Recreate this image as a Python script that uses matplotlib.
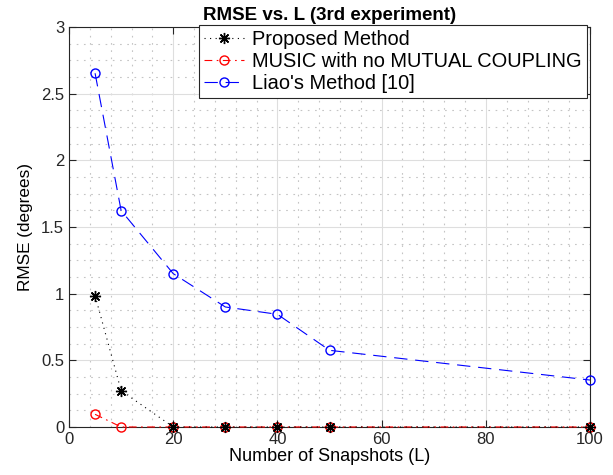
import numpy as np
import matplotlib
matplotlib.use('Agg')
import matplotlib.pyplot as plt
from matplotlib.ticker import MultipleLocator

plt.rcParams['font.family'] = ['Liberation Sans', 'DejaVu Sans']

snapshots = [5, 10, 20, 30, 40, 50, 100]
proposed = [0.985, 0.272, 0, 0, 0, 0, 0]
music = [0.095, 0, 0, 0, 0, 0, 0]
liao = [2.653, 1.623, 1.15, 0.90, 0.845, 0.575, 0.352]

fig = plt.figure(figsize=(6.13, 4.75), dpi=100)
ax = fig.add_axes([0.1126, 0.1011, 0.850, 0.8421])

lw = 0.8
ax.plot(snapshots, proposed, color='k', linestyle=(0, (1, 4)), linewidth=lw,
        marker=(8, 2, 0), markersize=8, markeredgewidth=1.0,
        label='Proposed Method', clip_on=False, zorder=4)
ax.plot(snapshots, music, color='r', linestyle=(0, (7, 4, 1.5, 4)), linewidth=lw,
        marker='o', markerfacecolor='none', markersize=6.5, markeredgewidth=1.0,
        label='MUSIC with no MUTUAL COUPLING', clip_on=False, zorder=3)
ax.plot(snapshots, liao, color='b', linestyle=(0, (12, 7)), linewidth=lw,
        marker='o', markerfacecolor='none', markersize=6.5, markeredgewidth=1.0,
        label="Liao's Method [10]", clip_on=False, zorder=3)

ax.set_xlim(0, 100)
ax.set_ylim(0, 3)
ax.xaxis.set_major_locator(MultipleLocator(20))
ax.xaxis.set_minor_locator(MultipleLocator(4))
ax.yaxis.set_major_locator(MultipleLocator(0.5))
ax.yaxis.set_minor_locator(MultipleLocator(0.125))
ax.grid(which='major', color='#dedede', linestyle='-', linewidth=0.8)
ax.grid(which='minor', color='#c4c4c4', linestyle=(0, (1.5, 5)), linewidth=0.8)
ax.set_axisbelow(True)
ax.tick_params(which='both', direction='in', top=True, right=True, labelsize=12,
               length=5, width=0.8, colors='#262626')
ax.tick_params(which='minor', length=0)
ax.set_yticks([0, 0.5, 1, 1.5, 2, 2.5, 3])
ax.set_yticklabels(['0', '0.5', '1', '1.5', '2', '2.5', '3'])
for s in ax.spines.values():
    s.set_linewidth(0.8)
    s.set_color('#262626')

ax.set_xlabel('Number of Snapshots (L)', fontsize=13, labelpad=1)
ax.set_ylabel('RMSE (degrees)', fontsize=12.3, labelpad=6)
ax.set_title('RMSE vs. L (3rd experiment)', fontsize=13.5, fontweight='bold', pad=5)

leg = ax.legend(loc='upper right', bbox_to_anchor=(0.9576, 0.9474), bbox_transform=fig.transFigure,
                fontsize=14.4, frameon=True, fancybox=False, edgecolor='#262626', framealpha=1,
                borderpad=0.25, labelspacing=0.15, handlelength=2.0, handletextpad=0.4,
                borderaxespad=0)
leg.get_frame().set_linewidth(0.8)

fig.savefig('out.png', dpi=100)
